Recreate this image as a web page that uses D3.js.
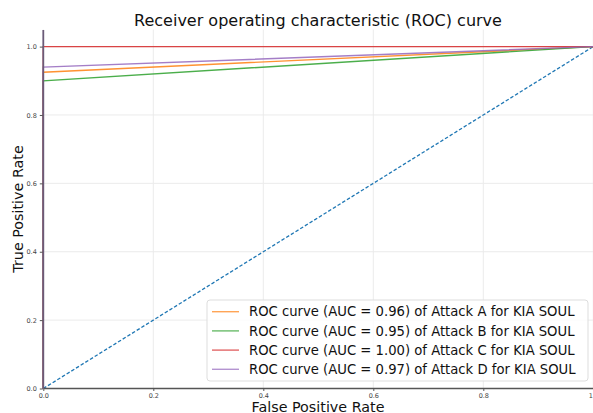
<!DOCTYPE html>
<html>
<head>
<meta charset="utf-8">
<script src="https://cdn.jsdelivr.net/npm/d3@7"></script>
<style>
  body { margin: 0; background: #fff; }
  svg { display: block; font-family: "DejaVu Sans", sans-serif; }
</style>
</head>
<body>
<svg width="593" height="413"></svg>
<script>
// data
var fpr = [0, 0, 1];
var series = ["Attack A", "Attack B", "Attack C", "Attack D"];
var tprA = [0, 0.925, 1];
var tprB = [0, 0.90, 1];
var tprC = [0, 1.0, 1];
var tprD = [0, 0.94, 1];
var aucs = ["0.96", "0.95", "1.00", "0.97"];
var colors = ["#ff7f0e", "#2ca02c", "#d62728", "#9467bd"];
var chanceX = [0, 1];
var chanceY = [0, 1];
var ticks = [0, 0.2, 0.4, 0.6, 0.8, 1.0];

var svg = d3.select("svg"),
    width = +svg.attr("width"),
    height = +svg.attr("height");

var x = d3.scaleLinear().domain([0, 1]).range([43.3, 593.3]);
var y = d3.scaleLinear().domain([0, 1.05]).range([388.5, 29.5]);

// grid
svg.append("g")
  .selectAll("line")
  .data(ticks)
  .enter().append("line")
    .attr("x1", function(d) { return x(d); })
    .attr("x2", function(d) { return x(d); })
    .attr("y1", y(0)).attr("y2", y(1.05))
    .attr("stroke", "#ebebeb").attr("stroke-width", 1);
svg.append("g")
  .selectAll("line")
  .data(ticks)
  .enter().append("line")
    .attr("x1", x(0)).attr("x2", x(1))
    .attr("y1", function(d) { return y(d); })
    .attr("y2", function(d) { return y(d); })
    .attr("stroke", "#ebebeb").attr("stroke-width", 1);

// curves
var line = d3.line()
  .x(function(d) { return x(d[0]); })
  .y(function(d) { return y(d[1]); });

svg.append("path")
  .datum(d3.zip(chanceX, chanceY))
  .attr("d", line)
  .attr("fill", "none")
  .attr("stroke", "#1f77b4")
  .attr("stroke-width", 1.3)
  .attr("stroke-dasharray", "3.5,2");

var tprs = [tprA, tprB, tprC, tprD];
tprs.forEach(function(t, i) {
  svg.append("path")
    .datum(d3.zip(fpr, t))
    .attr("d", line)
    .attr("fill", "none")
    .attr("stroke", colors[i])
    .attr("stroke-opacity", 0.85)
    .attr("stroke-width", 1.4);
});

// axes on top of the curves (d3 adds a 0.5 offset, undo it)
var xAxis = svg.append("g")
    .attr("transform", "translate(0," + (y(0) - 0.5) + ")")
    .call(d3.axisBottom(x).tickValues(ticks).tickSize(3).tickSizeOuter(0).tickFormat(d3.format(".1f")));
var yAxis = svg.append("g")
    .attr("transform", "translate(" + (x(0) - 0.5) + ",0)")
    .call(d3.axisLeft(y).tickValues(ticks).tickSize(3).tickSizeOuter(0).tickFormat(d3.format(".1f")));
[xAxis, yAxis].forEach(function(a) {
  a.selectAll(".tick line").attr("stroke", "#555");
  a.selectAll("text").attr("font-family", "DejaVu Sans").attr("font-size", 6.5).attr("fill", "#444");
});
yAxis.select(".domain").attr("stroke", "#6b5b78").attr("stroke-width", 1.8);
xAxis.select(".domain").attr("stroke", "#555").attr("stroke-width", 1.3);
xAxis.selectAll("text").attr("dy", "0.65em");

// labels
svg.append("text")
  .attr("x", 318).attr("y", 26)
  .attr("text-anchor", "middle")
  .attr("font-size", 16)
  .attr("fill", "#111")
  .text("Receiver operating characteristic (ROC) curve");
svg.append("text")
  .attr("x", 318).attr("y", 411.5)
  .attr("text-anchor", "middle")
  .attr("font-size", 14.3)
  .attr("fill", "#111")
  .text("False Positive Rate");
svg.append("text")
  .attr("transform", "translate(23,209) rotate(-90)")
  .attr("text-anchor", "middle")
  .attr("font-size", 14.3)
  .attr("fill", "#111")
  .text("True Positive Rate");

// legend
var legend = svg.append("g");
legend.append("rect")
  .attr("x", 207).attr("y", 300)
  .attr("width", 381).attr("height", 81)
  .attr("rx", 3)
  .attr("fill", "#fff").attr("fill-opacity", 0.8)
  .attr("stroke", "#ddd");
var items = legend.selectAll("g.item")
  .data(series)
  .enter().append("g")
    .attr("class", "item")
    .attr("transform", function(d, i) { return "translate(0," + (311.7 + i * 19.2) + ")"; });
items.append("line")
  .attr("x1", 212).attr("x2", 239)
  .attr("stroke", function(d, i) { return colors[i]; })
  .attr("stroke-opacity", 0.7)
  .attr("stroke-width", 1.4);
items.append("text")
  .attr("x", 249).attr("dy", "0.35em")
  .attr("font-size", 13.2)
  .attr("fill", "#111")
  .text(function(d, i) { return "ROC curve (AUC = " + aucs[i] + ") of " + d + " for KIA SOUL"; });
</script>
</body>
</html>
